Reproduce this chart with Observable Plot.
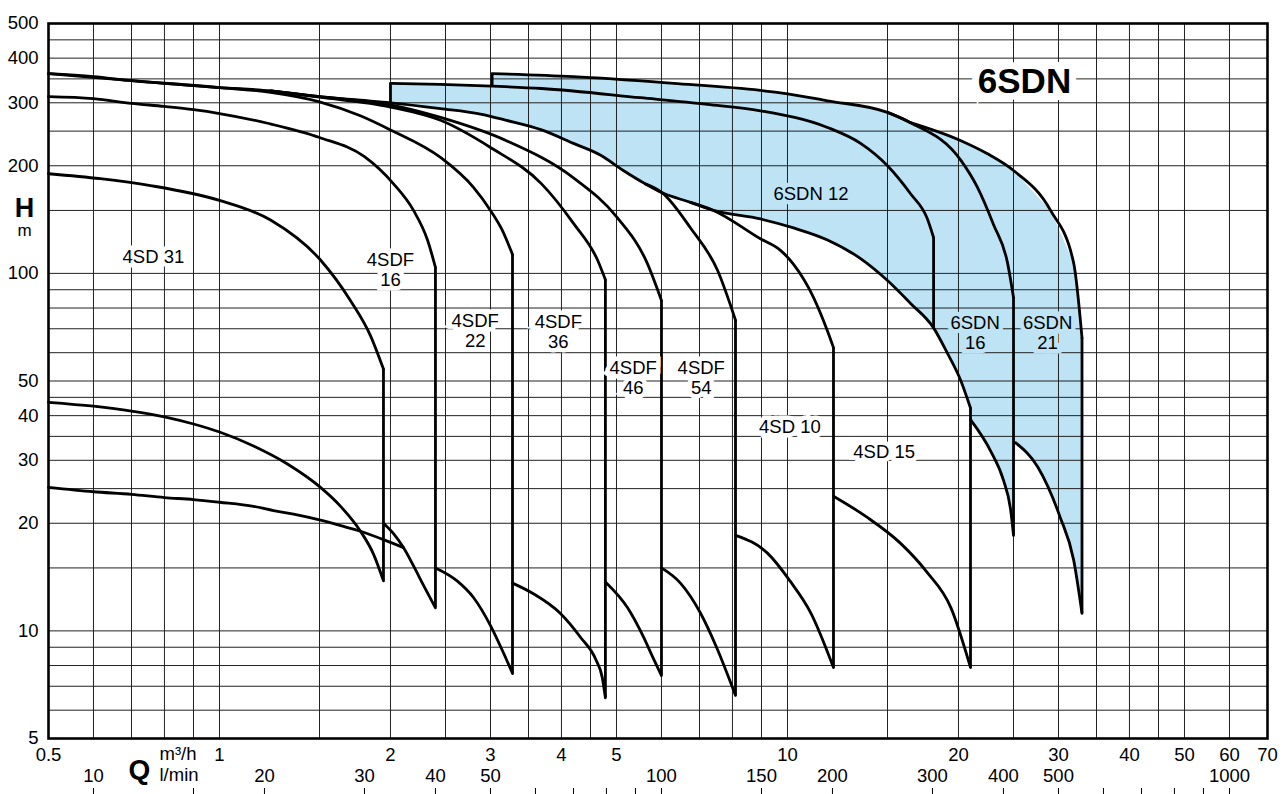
<!DOCTYPE html>
<html>
<head>
<meta charset="utf-8">
<script src="https://cdn.jsdelivr.net/npm/d3@7"></script>
<script src="https://cdn.jsdelivr.net/npm/@observablehq/plot@0.6"></script>
<style>
  html, body { margin: 0; padding: 0; background: #fff; }
  #chart svg { display: block; }
</style>
</head>
<body>
<div id="chart"></div>
<script>
// ---------- axis / grid values ----------
const xGrid = [0.5,0.6,0.7,0.8,0.9,1,1.5,2,2.5,3,3.5,4,4.5,5,6,7,8,9,10,15,20,25,30,35,40,45,50,60,70];
const yGrid = [5,6,7,8,9,10,15,20,25,30,35,40,45,50,60,70,80,90,100,150,200,250,300,350,400,450,500];
const xTickLabels = [0.5,1,2,3,4,5,10,20,30,40,50,60,70];           // m³/h
const yTickLabels = [5,10,20,30,40,50,100,200,300,400,500];          // m
const lminTickLabels = [10,20,30,40,50,100,150,200,300,400,500,1000]; // l/min
const lminTicks = [10,15,20,30,40,50,60,70,80,90,100,150,200,300,400,500,600,700,800,900,1000];

// ---------- curves [Q m³/h, H m] ----------
// main bundle: 4SD 15 top / lower edge of the 6SDN area
const mainCurve = [[0.5,362],[0.6,355],[0.7,346],[0.8,340],[0.9,335],[1.0,331],[1.23,324],[1.5,312],[1.77,305],[2.0,300],[2.45,289],[2.88,279],[3.2,268],[3.69,252],[4.2,231],[4.69,214],[5.14,194],[5.62,178],[6.02,168],[6.75,158],[7.41,150],[8.96,142],[10.25,134],[11.76,124],[13.45,110],[15.0,95.5],[16.47,82.4],[18.08,70.4],[19.1,60],[20.2,50],[21.0,42]];
const sd31Top = [[0.5,190],[0.617,184],[0.756,176],[1.0,160],[1.23,141],[1.506,109],[1.70,84],[1.844,67],[1.944,54]];
const sd31Bottom = [[0.5,43.6],[0.6,42.5],[0.7,41.2],[0.8,39.7],[0.9,37.9],[1.0,36.0],[1.148,32.9],[1.317,29.3],[1.506,25.2],[1.634,22.3],[1.771,19.0],[1.867,16.4],[1.944,13.8]];
const sdf16Top = [[0.5,312],[0.6,308],[0.7,299],[0.8,293],[0.9,287],[1.0,280],[1.215,263],[1.5,240],[1.8,212],[2.025,178],[2.196,150],[2.324,124],[2.40,104]];
const sdf16Bottom = [[0.5,25.2],[0.6,24.5],[0.7,24.1],[0.8,23.6],[0.9,23.3],[1.0,22.9],[1.148,22.3],[1.245,21.7],[1.35,21.2],[1.506,20.4],[1.634,19.7],[1.771,19.0],[1.944,18.0],[2.108,17.1]];
const sdf16BottomB = [[1.944,20.0],[2.025,18.7],[2.108,17.1],[2.196,15.2],[2.287,13.4],[2.40,11.6]];
const sdf22Top = [[0.5,362],[0.7,346],[1.0,331],[1.23,321],[1.5,302],[1.77,276],[2.0,252],[2.45,211],[2.80,174],[3.0,150],[3.14,133],[3.28,113]];
const sdf22Bottom = [[2.40,15.0],[2.62,13.8],[2.80,12.4],[3.0,10.35],[3.16,8.7],[3.28,7.6]];
const sdf36Top = [[1.23,324],[1.5,311],[2.0,292],[2.45,268],[3.0,225],[3.69,178],[4.2,138],[4.63,109],[4.78,96]];
const sdf36Bottom = [[3.28,13.6],[3.57,12.7],[3.98,11.2],[4.32,9.6],[4.6,8.3],[4.72,7.4],[4.78,6.5]];
const sdf46Top = [[1.23,324],[1.5,312],[2.0,296],[2.45,273],[3.2,235],[4.2,185],[5.02,143],[5.66,107],[6.0,84]];
const sdf46Bottom = [[4.78,13.7],[5.23,11.6],[5.58,9.6],[5.78,8.5],[6.0,7.5]];
const sdf54Top = [[5.62,178],[6.02,168],[6.75,134],[7.53,102],[8.1,74]];
const sdf54Bottom = [[6.0,15.0],[6.48,13.6],[7.03,11.2],[7.5,9.0],[8.1,6.6]];
const sd10Top = [[6.75,158],[7.41,150],[8.96,125],[9.72,116],[10.25,106],[11.1,86],[11.76,69],[12.05,62]];
const sd10Bottom = [[8.1,18.5],[9.22,16.5],[10.1,13.8],[11.0,11.2],[12.05,7.9]];
const sd15Bottom = [[12.05,23.8],[13.8,20.8],[15.8,17.6],[17.6,14.6],[19.4,11.6],[21.0,7.9]];
const sdn12Top = [[2.0,340],[2.45,338],[3.02,334],[3.69,329],[5.51,310],[7.23,297],[8.96,285],[11.76,256],[13.45,231],[15.0,200],[16.47,167],[17.6,143],[18.08,126]];
const sdnSharedTop = [[3.02,362],[4.2,355],[6.3,340],[8.96,325],[9.72,320],[11.76,304],[15.0,282],[16.47,264]];
const sdn21Top = [[16.47,264],[20.2,235],[22.5,216],[25.0,194],[29.05,150],[31.9,107],[33.0,66]];
const sdn16Top = [[15.0,282],[16.47,264],[20.2,207],[21.6,174],[23.05,137],[24.4,107],[25.0,85.6]];
const sdn16Bottom = [[21.0,39.0],[22.8,31.8],[24.0,26.4],[24.7,21.9],[25.0,18.5]];
const sdn21Bottom = [[25.2,33.6],[27.6,28.7],[30.2,20.8],[31.9,15.8],[33.0,11.2]];

// vertical end lines (max flow) : Q, top H, bottom H
const vertQ      = [1.944, 2.40, 3.28, 4.78, 6.0, 8.1, 12.05, 21.0, 18.08, 25.0, 33.0, 2.0, 3.02];
const vertTop    = [54,    104,  113,  96,   84,  74,  62,    42,   126,   85.6, 66,   340, 362];
const vertBottom = [13.8,  11.6, 7.6,  6.5,  7.5, 6.6, 7.9,   7.9,  70.4,  18.5, 11.2, 300, 334];

// model labels
const labelText = ["4SD 31","4SDF\n16","4SDF\n22","4SDF\n36","4SDF\n46","4SDF\n54","4SD 10","4SD 15","6SDN 12","6SDN\n16","6SDN\n21"];
const labelQ    = [0.765, 2.0, 2.82, 3.95, 5.35, 7.05, 10.1, 14.8, 11.0, 21.4, 28.7];
const labelH    = [111.5, 102.5, 69.2, 68.7, 51.1, 51.1, 37.3, 31.8, 167, 68.4, 68.4];
const labelBlue = [false,false,false,false,false,false,false,false,true,true,true];

// ---------- build tables ----------
const BLUE = "#bde3f5";
const FONT = "'Liberation Sans', Arial, Helvetica, sans-serif";
const curves = {
  mainCurve, sd31Top, sd31Bottom, sdf16Top, sdf16Bottom, sdf16BottomB, sdf22Top, sdf22Bottom,
  sdf36Top, sdf36Bottom, sdf46Top, sdf46Bottom, sdf54Top, sdf54Bottom, sd10Top, sd10Bottom,
  sd15Bottom, sdn12Top, sdnSharedTop, sdn21Top, sdn16Top, sdn16Bottom, sdn21Bottom
};
const lineRows = Object.entries(curves).flatMap(([name, pts]) => pts.map(([q, h]) => ({series: name, q, h})));
const verticals = vertQ.map((q, i) => ({q, top: vertTop[i], bottom: vertBottom[i]}));
const labels = labelText.map((t, i) => ({t, q: labelQ[i], h: labelH[i], blue: labelBlue[i]}));

// shaded 6SDN area: outline assembled from the boundary curves
const area = [
  ...sdn12Top.filter(d => d[0] <= 3.02),
  ...sdnSharedTop,
  ...sdn21Top.slice(1),
  ...sdn21Bottom.slice().reverse(),
  ...sdn16Bottom.slice().reverse(),
  ...mainCurve.filter(d => d[0] >= 2.0).reverse()
];

const txt = {lineAnchor: "middle", fill: "#000"};

const chart = Plot.plot({
  width: 1288,
  height: 794,
  marginLeft: 48,
  marginRight: 21,
  marginTop: 23,
  marginBottom: 56,
  style: {fontFamily: FONT, background: "#fff", color: "#000"},
  x: {type: "log", domain: [0.5, 70], axis: null},
  y: {type: "log", domain: [5, 500], axis: null},
  marks: [
    Plot.line(area, {x: d => d[0], y: d => d[1], fill: BLUE, stroke: "none"}),
    Plot.ruleX(xGrid, {stroke: "#222", strokeWidth: 1}),
    Plot.ruleY(yGrid, {stroke: "#222", strokeWidth: 1}),
    Plot.line(lineRows, {x: "q", y: "h", z: "series", curve: "monotone-x", stroke: "#000", strokeWidth: 2.8, strokeLinejoin: "round"}),
    Plot.ruleX(verticals, {x: "q", y1: "top", y2: "bottom", stroke: "#000", strokeWidth: 2.8}),
    // model labels with background-coloured boxes
    Plot.text(labels, {x: "q", y: "h", text: "t", fontSize: 18.5, lineHeight: 1.1, ...txt,
      stroke: d => d.blue ? BLUE : "#fff", strokeWidth: 9, strokeLinejoin: "miter"}),
    Plot.text(["6SDN"], {frameAnchor: "top-right", dx: -243, dy: 58, fontSize: 35, fontWeight: "bold",
      textAnchor: "middle", ...txt, stroke: "#fff", strokeWidth: 14, strokeLinejoin: "miter"}),
    // axis labels
    Plot.text(yTickLabels, {y: d => d, text: d => String(d), frameAnchor: "left", textAnchor: "end", dx: -10, fontSize: 18.5, ...txt}),
    Plot.text(xTickLabels, {x: d => d, text: d => String(d), frameAnchor: "bottom", dy: 17, fontSize: 18.5, ...txt}),
    Plot.text(lminTickLabels, {x: d => d * 0.06, text: d => String(d), frameAnchor: "bottom", dy: 38, fontSize: 18.5, ...txt}),
    Plot.axisX(lminTicks.map(d => d * 0.06), {anchor: "bottom", tickSize: 6, tickFormat: () => "", dy: 50, stroke: "#000", label: null}),
    Plot.text(["H"], {frameAnchor: "top-left", dx: -24, dy: 185, fontSize: 27, fontWeight: "bold", textAnchor: "middle", ...txt}),
    Plot.text(["m"], {frameAnchor: "top-left", dx: -24, dy: 207, fontSize: 17, textAnchor: "middle", ...txt}),
    Plot.text(["Q"], {frameAnchor: "bottom-left", dx: 91, dy: 32, fontSize: 28, fontWeight: "bold", textAnchor: "middle", ...txt}),
    Plot.text(["m³/h"], {frameAnchor: "bottom-left", dx: 111, dy: 16, fontSize: 18.5, textAnchor: "start", ...txt}),
    Plot.text(["l/min"], {frameAnchor: "bottom-left", dx: 111, dy: 37, fontSize: 18.5, textAnchor: "start", ...txt}),
    Plot.frame({stroke: "#000", strokeWidth: 2.6})
  ]
});
document.getElementById("chart").append(chart);
</script>
</body>
</html>
